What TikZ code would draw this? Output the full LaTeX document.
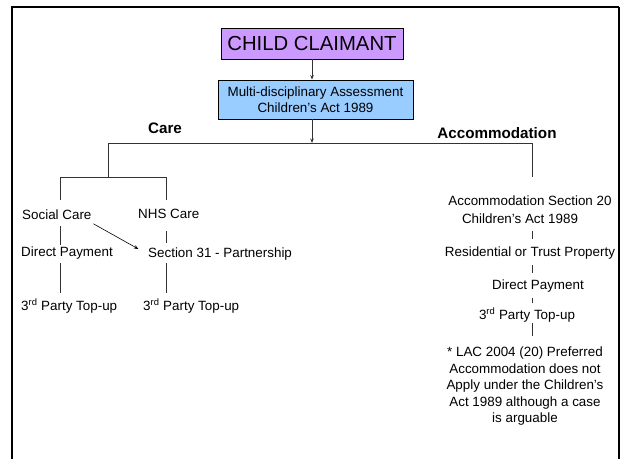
\documentclass[tikz,border=0pt]{standalone}
\usepackage{fontspec}
\setmainfont{Liberation Sans}
\usetikzlibrary{arrows.meta}
\definecolor{claimpurple}{HTML}{CC99FF}
\definecolor{assessblue}{HTML}{99CCFF}
\definecolor{linegray}{HTML}{333333}
\begin{document}
\begin{tikzpicture}[x=1pt,y=-1pt,
  txt/.style={inner sep=0pt, text height=9.7pt, text depth=2.8pt, font=\fontsize{13.4}{16}\selectfont},
  multi/.style={inner sep=0pt, align=center},
  head/.style={inner sep=0pt, font=\fontsize{15.2}{18}\selectfont\bfseries},
  box/.style={draw=black, line width=0.9pt, inner sep=0pt},
  conn/.style={draw=linegray, line width=0.9pt},
  arr/.style={conn, -{Stealth[length=4.5pt,width=3.5pt]}}
]
\useasboundingbox (0,0) rectangle (621,459);
\fill[white] (0,0) rectangle (621,459);
% frame
\draw[line width=2pt] (12,459) -- (12,7) -- (619,7);
\draw[line width=1.6pt] (619,7) -- (619,459);

% top boxes
\node[box, fill=claimpurple, minimum width=182pt, minimum height=31pt,
      font=\fontsize{20.3}{24}\selectfont] (cc) at (312,43.5) {CHILD CLAIMANT};
\node[box, fill=assessblue, minimum width=195pt, minimum height=39pt, align=center,
      font=\fontsize{13.4}{15.5}\selectfont] (mda) at (315.5,99.5)
      {Multi-disciplinary Assessment\\Children’s Act 1989};

% tree coordinates
\coordinate (split) at (312,143);
\coordinate (tL) at (108,143);
\coordinate (tR) at (532,143);
\coordinate (cj) at (108,177);
\coordinate (accTop) at (532,177);
\coordinate (scTop) at (60,200);
\coordinate (nhsTop) at (166,200);

% headings
\node[head] (care) at (165,128) {Care};
\node[head] (accom) at (497,133) {Accommodation};

% left column texts
\node[txt, anchor=base west] (sc) at (22,219.8) {Social Care};
\node[txt, anchor=base west] (nhs) at (138,218) {NHS Care};
\node[txt, anchor=base west] (dp1) at (21,256.8) {Direct Payment};
\node[txt, anchor=base west] (s31) at (148,257.8) {Section 31 - Partnership};
\node[txt, anchor=base west] (tp1) at (21,310.8) {3\textsuperscript{rd} Party Top-up};
\node[txt, anchor=base west] (tp2) at (143,310.8) {3\textsuperscript{rd} Party Top-up};

% right column texts
\node[multi, anchor=north, font=\fontsize{13.4}{18}\selectfont] (acc) at (530,195.2)
      {Accommodation Section 20\\Children’s Act 1989\hspace*{20pt}};
\node[txt, anchor=base] (res) at (530,256.8) {Residential or Trust Property};
\node[txt, anchor=base] (dp2) at (538,289.8) {Direct Payment};
\node[txt, anchor=base] (tp3) at (527,319.8) {3\textsuperscript{rd} Party Top-up};
\node[multi, anchor=north, font=\fontsize{13.4}{16.5}\selectfont] (note) at (525,347)
      {* LAC 2004 (20) Preferred\\Accommodation does not\\Apply under the Children’s\\Act 1989 although a case\\is arguable};

% connectors top
\draw[arr] (cc.south) -- (cc.south |- mda.north);
\draw[arr] (mda.south -| cc.south) -- (split);
\draw[conn] (tL) -- (tR) -- (accTop);
\draw[conn] (tL) -- (cj);
\draw[conn] (scTop) -- (scTop |- cj) -- (nhsTop |- cj) -- (nhsTop);

% left column connectors
\draw[conn, shorten <=3.4pt, shorten >=2.1pt] (sc.south -| scTop) -- (dp1.north -| scTop);
\draw[conn, shorten <=3.4pt, shorten >=8.1pt] (dp1.south -| scTop) -- (tp1.north -| scTop);
\draw[conn, shorten <=10.2pt, shorten >=5.1pt] (nhs.south -| nhsTop) -- (s31.north -| nhsTop);
\draw[conn, shorten <=2.4pt, shorten >=8.1pt] (s31.south -| nhsTop) -- (tp2.north -| nhsTop);
\draw[draw=black, line width=0.6pt, -{Stealth[length=4.5pt,width=3.5pt]}, shorten <=2pt, shorten >=11pt]
      (sc.south east) -- (s31.west);

% right column connectors
\draw[conn, shorten <=7.4pt, shorten >=8.1pt] (acc.south -| tR) -- (res.north -| tR);
\draw[conn, shorten <=5.4pt, shorten >=7.1pt] (res.south -| tR) -- (dp2.north -| tR);
\draw[conn, shorten <=5.4pt, shorten >=7.1pt] (dp2.south -| tR) -- (tp3.north -| tR);
\draw[conn, shorten >=11pt] (tp3.south -| tR) -- (note.north -| tR);
\end{tikzpicture}
\end{document}
